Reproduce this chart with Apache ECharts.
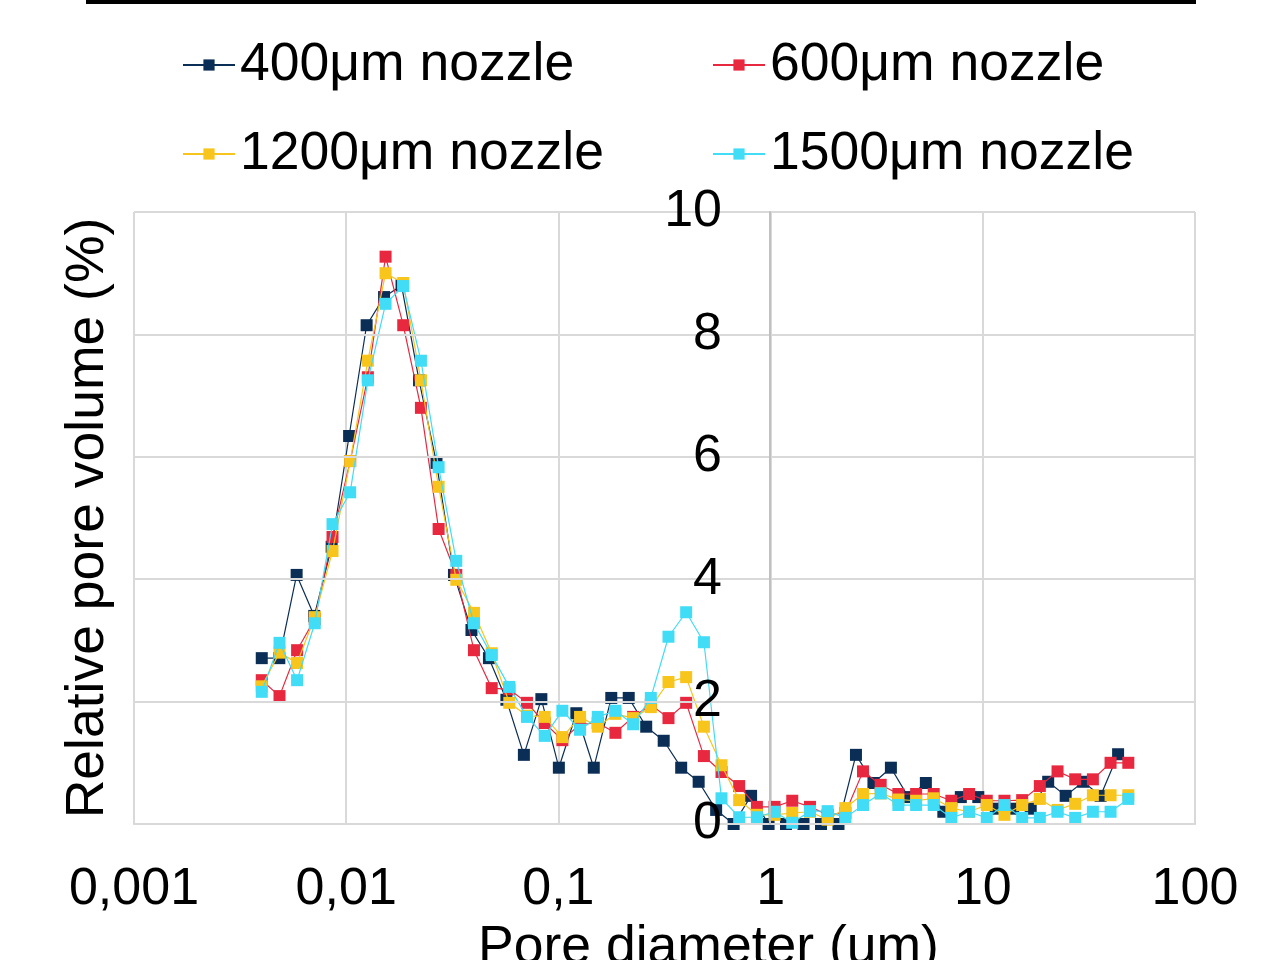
<!DOCTYPE html>
<html>
<head>
<meta charset="utf-8">
<script src="https://cdn.jsdelivr.net/npm/echarts@6/dist/echarts.min.js"></script>
<style>
html,body{margin:0;padding:0;background:#fff;}
#chart{width:1286px;height:960px;}
</style>
</head>
<body>
<div id="chart"></div>
<script>
// Pore diameters (µm) for the 600, 1200 and 1500 µm nozzle series
var diameters = [0.00400,0.00485,0.00587,0.00711,0.00862,0.01044,0.01265,0.01533,0.01857,0.02250,
  0.02726,0.03302,0.04000,0.0485,0.0587,0.0711,0.0862,0.1044,0.1265,0.1533,
  0.1857,0.2250,0.2726,0.3302,0.400,0.485,0.587,0.711,0.862,1.044,
  1.265,1.533,1.857,2.250,2.726,3.302,4.00,4.85,5.87,7.11,
  8.62,10.44,12.65,15.33,18.57,22.50,27.26,33.02,40.0,48.5];
// Pore diameters (µm) for the 400 µm nozzle series
var diameters400 = [0.00400,0.00484,0.00584,0.00707,0.00854,0.01032,0.01248,0.01508,0.01823,0.02204,
  0.02664,0.03220,0.03893,0.04706,0.05688,0.06876,0.08312,0.1005,0.1215,0.1468,
  0.1775,0.2145,0.2593,0.3135,0.3790,0.4581,0.5538,0.6694,0.8092,0.9782,
  1.182,1.429,1.728,2.089,2.525,3.052,3.689,4.460,5.391,6.517,
  7.878,9.523,11.51,13.91,16.82,20.33,24.58,29.71,35.91,43.41];

var values400 = [2.71,2.71,4.07,3.40,4.53,6.34,8.15,8.61,8.80,7.25,
  5.90,4.07,3.17,2.71,2.03,1.13,2.04,0.92,1.81,0.92,
  2.06,2.06,1.59,1.36,0.92,0.69,0.23,0.00,0.46,0.00,
  0.00,0.00,0.00,0.00,1.13,0.67,0.92,0.44,0.67,0.20,
  0.44,0.44,0.25,0.25,0.25,0.69,0.46,0.69,0.46,1.14];
var values600 = [2.35,2.09,2.84,3.35,4.69,5.93,7.30,9.27,8.15,6.80,
  4.82,4.07,2.84,2.22,2.20,1.98,1.65,1.37,1.63,1.65,
  1.49,1.75,1.95,1.73,1.98,1.11,0.85,0.62,0.28,0.28,
  0.38,0.28,0.15,0.18,0.86,0.64,0.49,0.49,0.49,0.38,
  0.49,0.38,0.38,0.39,0.62,0.86,0.73,0.73,1.00,1.00];
var values1200 = [2.25,2.80,2.63,3.38,4.46,5.93,7.57,9.00,8.84,7.25,
  5.51,3.99,3.45,2.79,1.98,1.77,1.75,1.42,1.75,1.59,
  1.80,1.73,1.91,2.32,2.40,1.59,0.96,0.39,0.15,0.15,
  0.18,0.20,0.07,0.26,0.49,0.50,0.40,0.38,0.42,0.26,
  0.20,0.31,0.15,0.31,0.41,0.23,0.33,0.47,0.47,0.47];
var values1500 = [2.16,2.96,2.35,3.28,4.90,5.42,7.25,8.50,8.79,7.57,
  5.83,4.30,3.28,2.76,2.24,1.75,1.44,1.85,1.54,1.75,
  1.85,1.63,2.06,3.06,3.46,2.97,0.42,0.11,0.11,0.20,
  0.02,0.21,0.21,0.10,0.31,0.50,0.31,0.31,0.31,0.10,
  0.20,0.10,0.31,0.10,0.10,0.20,0.10,0.20,0.20,0.41];

var seriesNames = ['400\u03bcm nozzle','600\u03bcm nozzle','1200\u03bcm nozzle','1500\u03bcm nozzle'];
var seriesColors = ['#0b2e56','#e8283f','#f7c51c','#41dcf6'];
var xTickLabels = ['0,001','0,01','0,1','1','10','100'];
var yTickLabels = ['0','2','4','6','8','10'];
var xAxisTitle = 'Pore diameter (um)';
var yAxisTitle = 'Relative pore volume (%)';

function pairs(xs, ys){ return xs.map(function(x,i){ return [x, ys[i]]; }); }

var FONT = 'Liberation Sans, Arial, sans-serif';
var FS = 52;
var FS_BIG = 53.5;

var chart = echarts.init(document.getElementById('chart'), null, {renderer:'canvas'});

function mkSeries(idx, xs, ys){
  return {
    name: seriesNames[idx],
    type: 'line',
    data: pairs(xs, ys),
    symbol: 'rect',
    symbolSize: 12,
    showAllSymbol: true,
    lineStyle: {width: 1.2, color: seriesColors[idx]},
    itemStyle: {color: seriesColors[idx]},
    emphasis: {disabled: true},
    animation: false,
    z: 2 + idx * 0.1
  };
}

function mkLegend(idx, left, top){
  return {
    data: [seriesNames[idx]],
    left: left, top: top,
    itemWidth: 52, itemHeight: 14,
    padding: 0,
    textStyle: {fontFamily: FONT, fontSize: FS_BIG, color: '#000'},
    selectedMode: false
  };
}

var option = {
  backgroundColor: '#ffffff',
  animation: false,
  textStyle: {fontFamily: FONT},
  graphic: [
    {type: 'rect', left: 86, top: 0, shape: {width: 1110, height: 4}, style: {fill: '#000'}}
  ],
  legend: [
    mkLegend(0, 182, 38),
    mkLegend(1, 712, 38),
    mkLegend(2, 182, 127),
    mkLegend(3, 712, 127)
  ],
  grid: {left: 134, right: 91, top: 212, bottom: 136, containLabel: false, outerBoundsMode: 'none'},
  xAxis: {
    type: 'log', logBase: 10, min: 0.001, max: 100,
    name: xAxisTitle, nameLocation: 'middle', nameGap: 86,
    nameTextStyle: {fontFamily: FONT, fontSize: FS_BIG, color: '#000', padding: [0,0,0,88]},
    axisLine: {show: true, onZero: false, lineStyle: {color: '#d0d0d0', width: 2}},
    axisTick: {show: false},
    minorTick: {show: false},
    axisLabel: {
      fontFamily: FONT, fontSize: FS, color: '#000', margin: 40,
      formatter: function(v){ var i = Math.round(Math.log10(v)) + 3; return xTickLabels[i] || ''; }
    },
    splitLine: {show: true, lineStyle: {color: '#d9d9d9', width: 2}}
  },
  yAxis: {
    type: 'value', min: 0, max: 10, interval: 2,
    position: 'left', offset: -636, z: 5,
    name: yAxisTitle, nameLocation: 'middle', nameGap: 655, nameRotate: 90,
    nameTextStyle: {fontFamily: FONT, fontSize: FS_BIG, color: '#000'},
    axisLine: {show: true, lineStyle: {color: '#c0c0c0', width: 2}},
    axisTick: {show: false},
    axisLabel: {
      fontFamily: FONT, fontSize: FS, color: '#000', margin: 48,
      formatter: function(v){ return yTickLabels[Math.round(v/2)]; }
    },
    splitLine: {show: true, lineStyle: {color: '#d9d9d9', width: 2}}
  },
  series: [
    mkSeries(0, diameters400, values400),
    mkSeries(1, diameters, values600),
    mkSeries(2, diameters, values1200),
    mkSeries(3, diameters, values1500)
  ]
};
chart.setOption(option);
</script>
</body>
</html>
